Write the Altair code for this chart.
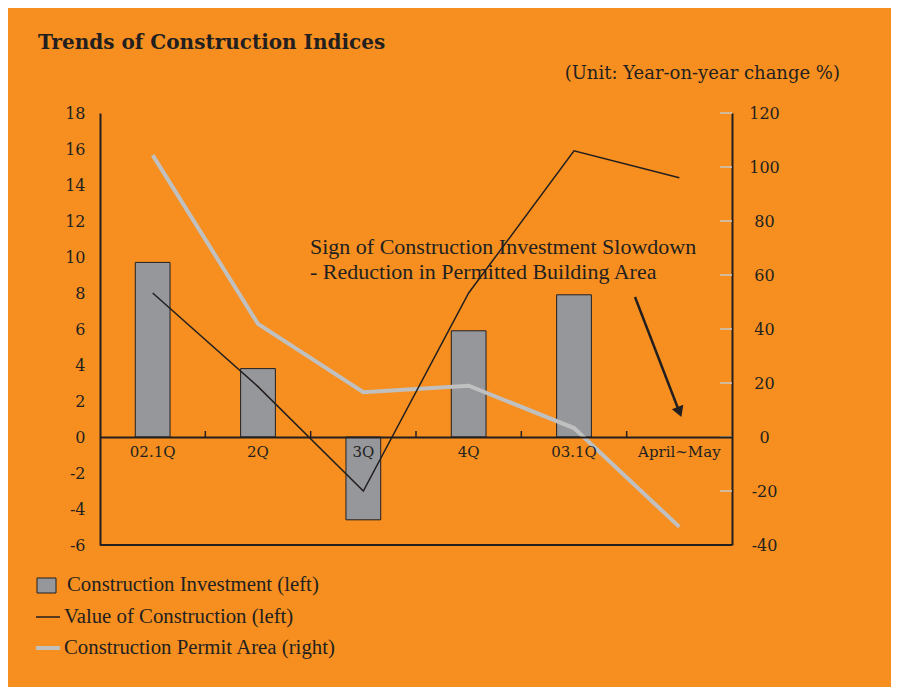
import altair as alt
import pandas as pd

# ---- data ----
categories = ["02.1Q", "2Q", "3Q", "4Q", "03.1Q", "April~May"]
investment = [9.7, 3.8, -4.6, 5.9, 7.9, None]            # left axis, bars
value_construction = [8.0, 2.8, -3.0, 8.0, 15.9, 14.4]   # left axis, black line
permit_area = [104.4, 41.9, 16.6, 19.0, 3.3, -33.3]      # right axis, grey line
left_ticks = list(range(-6, 19, 2))
right_ticks = list(range(-40, 121, 20))

ORANGE = "#F68F1F"
DARK = "#231F20"
BAR_GRAY = "#96979B"
LINE_GRAY = "#C0C0C0"
SERIF = "DejaVu Serif"
TEXT_SERIF = "Liberation Serif"

W, H = 632, 432

df = pd.DataFrame({"cat": categories, "inv": investment,
                   "val": value_construction, "permit": permit_area})

x_scale = alt.Scale(type="band", paddingInner=0, paddingOuter=0)
x_axis = alt.Axis(title=None, labelAngle=0, ticks=False, domainColor=DARK,
                  domainWidth=2, offset=-108, labelPadding=7, labelFont=SERIF,
                  labelFontSize=15, labelColor=DARK, zindex=1, grid=False)


def xenc(band=0.5):
    return alt.X("cat:N", sort=categories, scale=x_scale, axis=x_axis,
                 bandPosition=band)


left_scale = alt.Scale(domain=[-6, 18], nice=False, zero=False)
right_scale = alt.Scale(domain=[-40, 120], nice=False, zero=False)

left_axis = alt.Axis(orient="left", values=left_ticks, title=None, ticks=False,
                     grid=False, domainColor=DARK, domainWidth=2,
                     labelFont=SERIF, labelFontSize=16, labelPadding=15,
                     labelColor=DARK, labelExpr="'' + datum.value")
right_axis = alt.Axis(orient="right", values=right_ticks, title=None,
                      ticks=False, grid=False, domainColor=DARK, domainWidth=2,
                      labelFont=SERIF, labelFontSize=16, labelPadding=32,
                      labelAlign="center", labelColor=DARK,
                      labelExpr="'' + datum.value")

base = alt.Chart(df)

bars = base.mark_bar(width=alt.RelativeBandSize(0.33), color=BAR_GRAY,
                     stroke=DARK, strokeWidth=1).encode(
    x=alt.X("cat:N", sort=categories, scale=x_scale, axis=x_axis),
    y=alt.Y("inv:Q", scale=left_scale, axis=left_axis),
)

gray_line = base.mark_line(color=LINE_GRAY, strokeWidth=4).encode(
    x=xenc(0.5),
    y=alt.Y("permit:Q", scale=right_scale, axis=right_axis),
)

rticks = alt.Chart(pd.DataFrame({"rv": right_ticks})).mark_rule(
    color="#C9C9C9", strokeWidth=1.5).encode(
    y=alt.Y("rv:Q", scale=right_scale, axis=None),
    x=alt.value(W - 12), x2=alt.value(W),
)

black_line = base.mark_line(color=DARK, strokeWidth=1.5).encode(
    x=xenc(0.5),
    y=alt.Y("val:Q", scale=left_scale, axis=None),
)

xticks = base.transform_filter("datum.cat != '02.1Q'").mark_rule(
    color=DARK, strokeWidth=1.5).encode(
    x=xenc(0), y=alt.value(H * 0.75 - 6), y2=alt.value(H * 0.75),
)

one = alt.Data(values=[{"a": 1}])

bottom_rule = alt.Chart(one).mark_rule(color=DARK, strokeWidth=2).encode(
    x=alt.value(0), x2=alt.value(W), y=alt.value(H))


def txt(s, x, y, size, font=TEXT_SERIF, align="left", weight="normal"):
    return alt.Chart(one).mark_text(
        text=s, font=font, fontSize=size, align=align, baseline="middle",
        color=DARK, fontWeight=weight).encode(x=alt.value(x), y=alt.value(y))


title = txt("Trends of Construction Indices", -62, -70, 20, font=SERIF,
            weight="bold")
unit = txt("(Unit: Year-on-year change %)", 740, -39, 18, font=SERIF,
           align="right")
ann1 = txt("Sign of Construction Investment Slowdown", 210, 134, 22)
ann2 = txt("- Reduction in Permitted Building Area", 210, 159, 22)

arrow_line = alt.Chart(one).mark_rule(color=DARK, strokeWidth=2.5).encode(
    x=alt.value(535), y=alt.value(184), x2=alt.value(579), y2=alt.value(298))
arrow_head = alt.Chart(one).mark_point(
    shape="triangle-down", filled=True, color=DARK, opacity=1, size=150,
    angle=339).encode(x=alt.value(579.5), y=alt.value(299))

leg_sq = alt.Chart(one).mark_rect(color=BAR_GRAY, stroke=DARK,
                                  strokeWidth=1).encode(
    x=alt.value(-63), x2=alt.value(-44), y=alt.value(465), y2=alt.value(480))
leg_l1 = alt.Chart(one).mark_rule(color=DARK, strokeWidth=1.5).encode(
    x=alt.value(-64), x2=alt.value(-40), y=alt.value(504))
leg_l2 = alt.Chart(one).mark_rule(color=LINE_GRAY, strokeWidth=4).encode(
    x=alt.value(-64), x2=alt.value(-40), y=alt.value(535))
leg_t1 = txt("Construction Investment (left)", -33, 472, 20.8)
leg_t2 = txt("Value of Construction (left)", -36, 504, 20.8)
leg_t3 = txt("Construction Permit Area (right)", -36, 535, 20.8)

chart = alt.layer(
    bars, gray_line, rticks, black_line, xticks, bottom_rule,
    title, unit, ann1, ann2, arrow_line, arrow_head,
    leg_sq, leg_l1, leg_l2, leg_t1, leg_t2, leg_t3,
).resolve_scale(y="independent").properties(
    width=W, height=H, autosize="none",
    padding={"left": 92, "top": 105, "right": 159, "bottom": 142},
    background=ORANGE,
).configure_view(stroke=None)

chart.save("out.html", embed_options={"renderer": "svg", "actions": False})
